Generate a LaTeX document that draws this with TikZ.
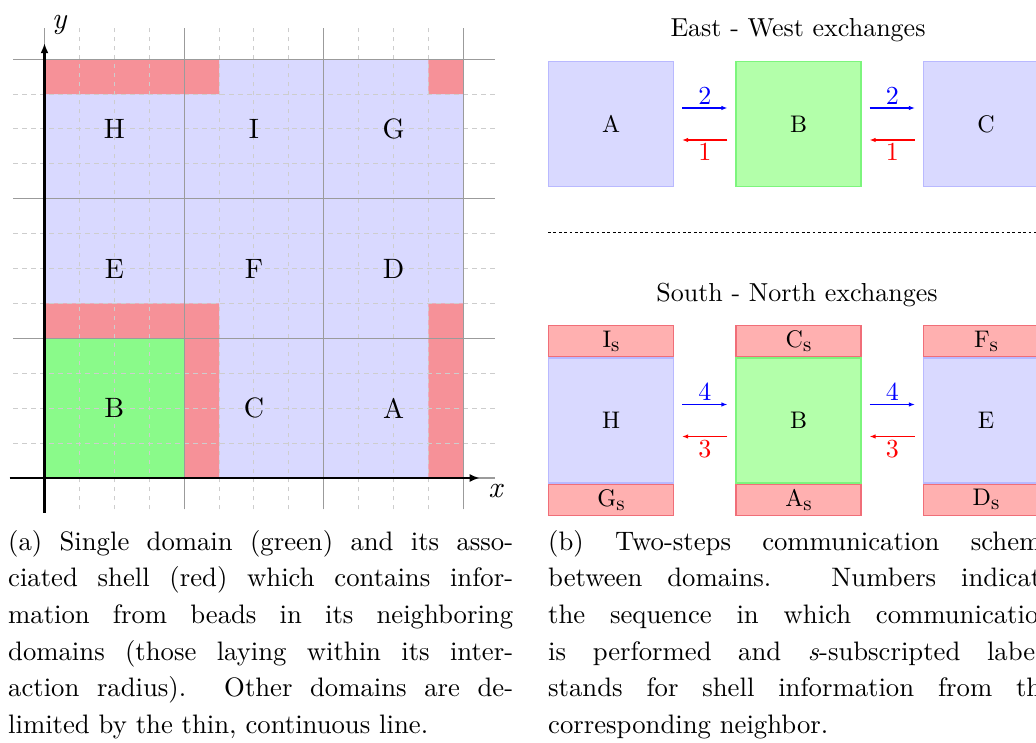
\documentclass[tikz,border=0pt]{standalone}
\usepackage{fontspec}
\setmainfont{lmroman10-regular.otf}[BoldFont=lmroman10-bold.otf, ItalicFont=lmroman10-italic.otf, BoldItalicFont=lmroman10-bolditalic.otf]
\usetikzlibrary{arrows.meta}
\definecolor{lgreen}{RGB}{138,250,138}
\definecolor{lred}{RGB}{246,145,152}
\definecolor{dblue}{RGB}{217,217,255}
\definecolor{dbluebd}{RGB}{185,185,255}
\definecolor{dgreen}{RGB}{179,255,170}
\definecolor{dgreenbd}{RGB}{125,245,125}
\definecolor{dred}{RGB}{255,176,176}
\definecolor{dredbd}{RGB}{240,110,120}
\definecolor{gridminor}{RGB}{205,205,205}
\definecolor{gridmajor}{RGB}{155,155,155}
\newcommand{\shellsub}[1]{#1\raisebox{-4pt}{\fontsize{21}{24}\selectfont s}}
\begin{document}
\begin{tikzpicture}[x=1pt,y=1pt,
  domlabel/.style={font=\fontsize{28}{34}\selectfont, inner sep=0pt},
  axislabel/.style={font=\fontsize{30}{36}\selectfont\itshape, inner sep=0pt},
  minorgrid/.style={draw=gridminor, line width=1pt, dash pattern=on 4.5pt off 4.5pt},
  majorgrid/.style={draw=gridmajor, line width=1.2pt},
  axisline/.style={line width=2.6pt, -{Latex[length=10pt,width=8pt]}},
  dombox/.style={minimum width=125pt, minimum height=125pt, inner sep=0pt, line width=1.2pt, font=\fontsize{24}{30}\selectfont},
  bluebox/.style={dombox, fill=dblue, draw=dbluebd},
  greenbox/.style={dombox, fill=dgreen, draw=dgreenbd},
  shellbox/.style={minimum width=125pt, minimum height=31pt, inner sep=0pt, line width=1.2pt, fill=dred, draw=dredbd, font=\fontsize{24}{30}\selectfont},
  sendarrow/.style={draw=blue, line width=1.2pt, -{Latex[length=6pt,width=4.5pt]}},
  recvarrow/.style={draw=red, line width=1.2pt, -{Latex[length=6pt,width=4.5pt]}},
  seqnum/.style={font=\fontsize{26}{32}\selectfont, inner sep=3pt},
  titletext/.style={font=\fontsize{26}{32}\selectfont, inner sep=0pt, anchor=base},
  captiontext/.style={font=\fontsize{26.7}{36.6}\selectfont, inner sep=0pt, anchor=north west, text width=505pt, align=justify},
  separator/.style={line width=1pt, dash pattern=on 2.7pt off 2.7pt}
]
\useasboundingbox (0,0) rectangle (1036,743);

% ---------- left panel ----------
\begin{scope}[shift={(44.5,265)}, x=34.9pt, y=34.9pt]
  \fill[dblue] (0,0) rectangle (12,12);
  \fill[lgreen] (0,0) rectangle (4,4);
  \fill[lred] (4,0) rectangle (5,5) (0,4) rectangle (4,5)
              (11,0) rectangle (12,5) (0,11) rectangle (5,12)
              (11,11) rectangle (12,12);
  \draw[minorgrid] (-0.9,-0.9) grid[step=1] (12.9,12.9);
  \draw[majorgrid] (-0.9,-0.9) grid[step=4] (12.9,12.9);
  \coordinate (xstart) at (-1,0);
  \coordinate (xend) at (12.47,0);
  \coordinate (ystart) at (0,-1);
  \coordinate (yend) at (0,12.46);
  \draw[axisline] (xstart) -- (xend);
  \draw[axisline] (ystart) -- (yend);
  \node[axislabel] (xlabel) at (12.92,-0.36) {x};
  \node[axislabel] (ylabel) at (0.42,12.98) {y};
  \node[domlabel] (lB) at (2,2) {B};
  \node[domlabel] (lC) at (6,2) {C};
  \node[domlabel] (lA) at (10,2) {A};
  \node[domlabel] (lE) at (2,6) {E};
  \node[domlabel] (lF) at (6,6) {F};
  \node[domlabel] (lD) at (10,6) {D};
  \node[domlabel] (lH) at (2,10) {H};
  \node[domlabel] (lI) at (6,10) {I};
  \node[domlabel] (lG) at (10,10) {G};
\end{scope}

% ---------- right panel: East - West ----------
\node[titletext] (ewtitle) at (798,706) {East - West exchanges};
\node[bluebox] (A) at (611,619) {A};
\node[greenbox] (B) at (798.5,619) {B};
\node[bluebox] (C) at (986,619) {C};
\draw[sendarrow] ([xshift=8pt,yshift=16pt]A.east) -- node[above, seqnum, text=blue] (n2a) {2} ([xshift=-8pt,yshift=16pt]B.west);
\draw[recvarrow] ([xshift=-8pt,yshift=-16pt]B.west) -- node[below, seqnum, text=red] (n1a) {1} ([xshift=8pt,yshift=-16pt]A.east);
\draw[sendarrow] ([xshift=8pt,yshift=16pt]B.east) -- node[above, seqnum, text=blue] (n2b) {2} ([xshift=-8pt,yshift=16pt]C.west);
\draw[recvarrow] ([xshift=-8pt,yshift=-16pt]C.west) -- node[below, seqnum, text=red] (n1b) {1} ([xshift=8pt,yshift=-16pt]B.east);

\coordinate (sepL) at (548,510);
\coordinate (sepR) at (1040,510);
\draw[separator] (sepL) -- (sepR);

% ---------- right panel: South - North ----------
\node[titletext] (sntitle) at (797,441) {South - North exchanges};
\node[bluebox] (H) at (611,322.5) {H};
\node[greenbox] (B2) at (798.5,322.5) {B};
\node[bluebox] (E) at (986,322.5) {E};
\node[shellbox, anchor=south] (Is) at (H.north) {\shellsub{I}};
\node[shellbox, anchor=north] (Gs) at (H.south) {\shellsub{G}};
\node[shellbox, anchor=south] (Cs) at (B2.north) {\shellsub{C}};
\node[shellbox, anchor=north] (As) at (B2.south) {\shellsub{A}};
\node[shellbox, anchor=south] (Fs) at (E.north) {\shellsub{F}};
\node[shellbox, anchor=north] (Ds) at (E.south) {\shellsub{D}};
\draw[sendarrow] ([xshift=8pt,yshift=16pt]H.east) -- node[above, seqnum, text=blue] (n4a) {4} ([xshift=-8pt,yshift=16pt]B2.west);
\draw[recvarrow] ([xshift=-8pt,yshift=-16pt]B2.west) -- node[below, seqnum, text=red] (n3a) {3} ([xshift=8pt,yshift=-16pt]H.east);
\draw[sendarrow] ([xshift=8pt,yshift=16pt]B2.east) -- node[above, seqnum, text=blue] (n4b) {4} ([xshift=-8pt,yshift=16pt]E.west);
\draw[recvarrow] ([xshift=-8pt,yshift=-16pt]E.west) -- node[below, seqnum, text=red] (n3b) {3} ([xshift=8pt,yshift=-16pt]B2.east);

% ---------- captions ----------
\node[captiontext] (capa) at (8,218.6) {\sloppy\strut(a) Single domain (green) and its asso-\linebreak ciated shell (red) which contains infor-\linebreak mation from beads in its neighboring\linebreak domains (those laying within its inter-\linebreak action radius).  Other domains are de-\linebreak limited by the thin, continuous line.};
\node[captiontext] (capb) at (548,218.6) {\sloppy\strut(b) Two-steps communication scheme\linebreak between domains.  Numbers indicate\linebreak the sequence in which communication\linebreak is performed and \textit{s}-subscripted labels\linebreak stands for shell information from the\linebreak corresponding neighbor.};
\end{tikzpicture}
\end{document}
